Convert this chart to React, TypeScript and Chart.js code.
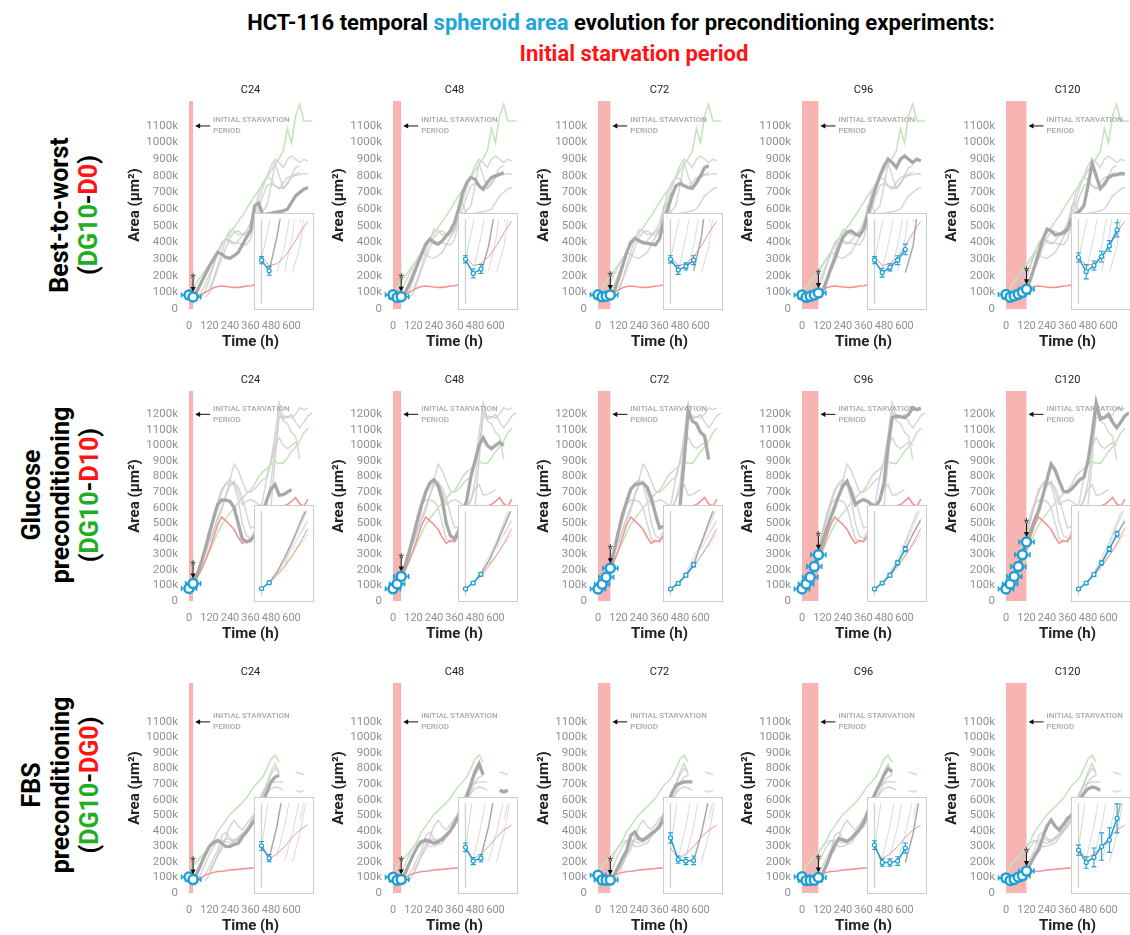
import React, { useEffect, useRef } from "react";
import { Chart, registerables } from "chart.js";
Chart.register(...registerables);

const FONT = "Roboto, 'Noto Sans', 'DejaVu Sans', sans-serif";

// ---------------- DATA (areas in thousand µm², time in hours) ----------------
const TIMES = [0, 24, 48, 72, 96, 120, 144, 168, 192, 216, 240, 264, 288, 312, 336, 360, 384, 408, 432, 456, 480, 504, 528, 552, 576, 600, 624, 648, 672, 696, 720];
const STARVATION_HOURS = [24, 48, 72, 96, 120];
const PANEL_TITLES = ["C24", "C48", "C72", "C96", "C120"];
const X_TICKS = [0, 120, 240, 360, 480, 600];
const Y_TICKS_1100 = [0, 100, 200, 300, 400, 500, 600, 700, 800, 900, 1000, 1100];
const Y_TICKS_1200 = [0, 100, 200, 300, 400, 500, 600, 700, 800, 900, 1000, 1100, 1200];

// Row 1: Best-to-worst (DG10-D0)
const GREEN_BTW = [85, 125, 165, 200, 235, 268, 305, 345, 385, 420, 455, 490, 525, 560, 600, 640, 680, 715, 750, 790, 830, 870, 905, 950, 1085, 1000, 1160, 1230, 1130, 1130, 1130];
const RED_BTW = [88, 78, 80, 88, 100, 115, 128, 135, 138, 135, 132, 130, 130, 133, 138, 140, 145, 150, 160, 175, 190, 210, 230, 250, 270, 290, 310, 330, 350, 370, 390];
const GREY_BTW_C24 = [null, 72, 110, 160, 210, 260, 300, 340, 330, 310, 305, 320, 340, 385, 430, 470, 620, 636, 565, 570, 575, 580, 585, 590, 600, 640, 680, 700, 720, 730, null];
const GREY_BTW_C48 = [null, null, 70, 100, 150, 210, 270, 330, 390, 420, 400, 390, 410, 440, 470, 520, 600, 700, 760, 790, 780, 740, 720, 760, 790, 800, 810, 820, null, null, null];
const GREY_BTW_C72 = [null, null, null, 72, 110, 180, 260, 340, 400, 425, 410, 400, 395, 390, 385, 420, 520, 600, 680, 740, 755, 740, 730, 725, 760, 800, 850, 860, null, null, null];
const GREY_BTW_C96 = [null, null, null, null, 70, 100, 170, 240, 300, 370, 430, 460, 470, 450, 440, 480, 560, 650, 730, 800, 860, 900, 880, 850, 900, 920, 900, 880, 900, 890, null];
const GREY_BTW_C120 = [null, null, null, null, null, 126, 180, 260, 340, 420, 480, 470, 445, 450, 460, 480, 540, 570, 590, 620, 740, 874, 800, 724, 750, 790, 804, 806, 814, 810, null];
const BLUE_BTW_C24 = [84, 72];
const BLUE_BTW_C48 = [85, 69, 74];
const BLUE_BTW_C72 = [85, 73, 77, 84];
const BLUE_BTW_C96 = [84, 70, 76, 84, 96];
const BLUE_BTW_C120 = [87, 71, 78, 88, 100, 118];
const ERR_BTW_C24 = [4, 5];
const ERR_BTW_C48 = [4, 5, 5];
const ERR_BTW_C72 = [4, 5, 4, 5];
const ERR_BTW_C96 = [4, 5, 4, 5, 6];
const ERR_BTW_C120 = [5, 8, 5, 6, 6, 8];

// Row 2: Glucose preconditioning (DG10-D10)
const GREEN_GLU = [80, 115, 160, 210, 265, 320, 380, 440, 490, 530, 565, 600, 630, 660, 690, 710, 750, 800, 830, 850, 880, 895, 885, 885, 920, 960, 990, 1030, 1080, 1110, null];
const RED_GLU = [80, 110, 150, 200, 260, 330, 410, 490, 540, 515, 490, 460, 410, 370, 390, 380, 420, 450, 500, 540, 560, 580, 600, 610, 620, 640, 665, 625, 610, 655, null];
const GREY_GLU_C24 = [null, 112, 170, 250, 340, 440, 530, 620, 650, 648, 640, 600, 500, 400, 380, 390, 420, 480, 560, 650, 720, 748, 680, 684, 700, 716, null, null, null, null, null];
const GREY_GLU_C48 = [null, null, 160, 230, 320, 420, 520, 620, 700, 760, 780, 740, 650, 500, 420, 400, 450, 550, 650, 800, 900, 1000, 1050, 1000, 980, 1000, 1020, 1000, null, null, null];
const GREY_GLU_C72 = [null, null, null, 211, 330, 450, 560, 640, 720, 748, 755, 759, 730, 662, 560, 469, 480, 500, 540, 580, 610, 900, 1221, 1157, 1140, 1085, 1060, 910, null, null, null];
const GREY_GLU_C96 = [null, null, null, null, 297, 380, 460, 540, 608, 680, 740, 770, 700, 619, 640, 652, 640, 620, 610, 650, 760, 1000, 1178, 1189, 1185, 1178, 1200, 1243, 1230, 1240, null];
const GREY_GLU_C120 = [null, null, null, null, null, 379, 450, 520, 580, 680, 780, 880, 840, 770, 705, 700, 720, 750, 780, 794, 900, 1073, 1274, 1170, 1180, 1200, 1150, 1114, 1150, 1190, 1210];
const BLUE_GLU_C24 = [80, 112];
const BLUE_GLU_C48 = [78, 110, 158];
const BLUE_GLU_C72 = [77, 108, 153, 211];
const BLUE_GLU_C96 = [77, 110, 153, 221, 297];
const BLUE_GLU_C120 = [77, 110, 157, 221, 297, 379];
const ERR_GLU_C24 = [6, 8];
const ERR_GLU_C48 = [6, 8, 10];
const ERR_GLU_C72 = [6, 8, 10, 12];
const ERR_GLU_C96 = [6, 8, 10, 12, 14];
const ERR_GLU_C120 = [6, 8, 10, 12, 14, 16];

// Row 3: FBS preconditioning (DG10-DG0)
const GREEN_FBS = [100, 175, 205, 235, 265, 296, 340, 395, 430, 470, 505, 530, 555, 580, 610, 650, 690, 715, 746, 800, 860, 886, 840, null, null, null, 778, 770, 760, null, null];
const RED_FBS = [100, 85, 92, 102, 115, 125, 132, 138, 140, 143, 148, 150, 152, 155, 158, 160, 162, 165, 170, 180, 195, 215, 240, 265, 295, 330, 370, 410, 450, 490, 520];
const GREY_FBS_C24 = [null, 86, 130, 190, 250, 300, 325, 338, 320, 298, 300, 312, 320, 360, 392, 430, 468, 520, 580, 650, 714, 745, 757, null, null, null, null, null, null, null, null];
const GREY_FBS_C48 = [null, null, 88, 130, 190, 250, 300, 330, 340, 330, 320, 330, 345, 370, 400, 450, 500, 560, 620, 700, 780, 832, 760, null, null, null, 660, 650, 660, null, null];
const GREY_FBS_C72 = [null, null, null, 82, 120, 170, 225, 275, 370, 392, 350, 340, 360, 382, 400, 424, 480, 560, 640, 692, 705, 714, 714, 714, null, null, null, null, null, null, null];
const GREY_FBS_C96 = [null, null, null, null, 80, 120, 180, 250, 310, 350, 340, 330, 350, 380, 410, 450, 520, 590, 650, 700, 760, 800, 780, null, null, null, null, null, null, null, null];
const GREY_FBS_C120 = [null, null, null, null, null, 140, 190, 240, 280, 360, 430, 468, 430, 405, 440, 480, 500, 560, 600, 640, 670, 682, 675, 660, null, null, null, null, null, null, null];
const BLUE_FBS_C24 = [103, 86];
const BLUE_FBS_C48 = [101, 82, 86];
const BLUE_FBS_C72 = [114, 84, 82, 83];
const BLUE_FBS_C96 = [104, 80, 80, 82, 100];
const BLUE_FBS_C120 = [97, 80, 87, 102, 111, 141];
const ERR_FBS_C24 = [6, 5];
const ERR_FBS_C48 = [6, 5, 5];
const ERR_FBS_C72 = [7, 5, 5, 6];
const ERR_FBS_C96 = [6, 5, 5, 6, 7];
const ERR_FBS_C120 = [7, 8, 13, 19, 17, 20];

const ROWS = [
  {
    green: GREEN_BTW, red: RED_BTW,
    greys: [GREY_BTW_C24, GREY_BTW_C48, GREY_BTW_C72, GREY_BTW_C96, GREY_BTW_C120],
    blues: [BLUE_BTW_C24, BLUE_BTW_C48, BLUE_BTW_C72, BLUE_BTW_C96, BLUE_BTW_C120],
    errs: [ERR_BTW_C24, ERR_BTW_C48, ERR_BTW_C72, ERR_BTW_C96, ERR_BTW_C120],
    yMax: 1250, yTicks: Y_TICKS_1100, noteLevel: 1100, insetMin: 35, insetMax: 130,
  },
  {
    green: GREEN_GLU, red: RED_GLU,
    greys: [GREY_GLU_C24, GREY_GLU_C48, GREY_GLU_C72, GREY_GLU_C96, GREY_GLU_C120],
    blues: [BLUE_GLU_C24, BLUE_GLU_C48, BLUE_GLU_C72, BLUE_GLU_C96, BLUE_GLU_C120],
    errs: [ERR_GLU_C24, ERR_GLU_C48, ERR_GLU_C72, ERR_GLU_C96, ERR_GLU_C120],
    yMax: 1350, yTicks: Y_TICKS_1200, noteLevel: 1200, insetMin: 40, insetMax: 505,
  },
  {
    green: GREEN_FBS, red: RED_FBS,
    greys: [GREY_FBS_C24, GREY_FBS_C48, GREY_FBS_C72, GREY_FBS_C96, GREY_FBS_C120],
    blues: [BLUE_FBS_C24, BLUE_FBS_C48, BLUE_FBS_C72, BLUE_FBS_C96, BLUE_FBS_C120],
    errs: [ERR_FBS_C24, ERR_FBS_C48, ERR_FBS_C72, ERR_FBS_C96, ERR_FBS_C120],
    yMax: 1350, yTicks: Y_TICKS_1100, noteLevel: 1100, insetMin: 45, insetMax: 162,
  },
];

// ---------------- STYLE / LAYOUT ----------------
const BLUE = "#1f9fd4";
const BAND = "#f8b3b3";
const GREEN_LINE = "#c2e6ba";
const RED_LINE = "#f39494";
const GREY_LIGHT = "rgba(200,200,200,0.75)";
const GREY_DARK = "#a8a8a8";
const TICK_COLOR = "#8b9199";
const LABEL_GREEN = "#1fae1f";
const LABEL_RED = "#ff1414";
const X_TICK_SIZE = 11;
const Y_TICK_SIZE = 11.5;

const COL_X0 = [189, 393, 598, 802, 1006];
const ROW_TOP = [101, 391, 683];
const ROW_BOTTOM = [309, 601, 893];
const Y_AXIS_W = 80;
const PLOT_W = 130;
const TOP_PAD = 23;
const X_AXIS_H = 45;

function series(vals) {
  return TIMES.map((t, i) => ({ x: t, y: vals[i] === undefined ? null : vals[i] }));
}

function drawErrorBars(chart, vals, errs, main) {
  const { ctx } = chart;
  const x = chart.scales.x;
  const y = chart.scales.y;
  ctx.save();
  ctx.strokeStyle = BLUE;
  ctx.lineWidth = main ? 1.6 : 1.1;
  vals.forEach((v, i) => {
    const px = x.getPixelForValue(TIMES[i]);
    const py = y.getPixelForValue(v);
    const pt = y.getPixelForValue(v + errs[i]);
    const pb = y.getPixelForValue(v - errs[i]);
    const cap = main ? 3.5 : 2.5;
    ctx.beginPath();
    ctx.moveTo(px, pt); ctx.lineTo(px, pb);
    ctx.moveTo(px - cap, pt); ctx.lineTo(px + cap, pt);
    ctx.moveTo(px - cap, pb); ctx.lineTo(px + cap, pb);
    if (main) {
      const hw = 7.5;
      ctx.moveTo(px - hw, py); ctx.lineTo(px + hw, py);
      ctx.moveTo(px - hw, py - 2.5); ctx.lineTo(px - hw, py + 2.5);
      ctx.moveTo(px + hw, py - 2.5); ctx.lineTo(px + hw, py + 2.5);
    }
    ctx.stroke();
  });
  ctx.restore();
}

function buildDatasets(row, col, inset) {
  const R = ROWS[row];
  const blue = R.blues[col];
  const ds = [];
  ds.push({
    data: blue.map((v, i) => ({ x: TIMES[i], y: v })),
    borderColor: BLUE, borderWidth: inset ? 1.5 : 3,
    pointRadius: inset ? 2 : 4.5, pointBorderWidth: inset ? 1.2 : 2.5,
    pointBackgroundColor: "#fff", pointBorderColor: BLUE, clip: false, tension: 0,
  });
  ds.push({ data: series(R.greys[col]), borderColor: GREY_DARK, borderWidth: inset ? 1.5 : 3.3, pointRadius: 0, tension: 0 });
  ds.push({ data: series(R.red), borderColor: RED_LINE, borderWidth: inset ? 1 : 1.6, pointRadius: 0, tension: 0 });
  ds.push({ data: series(R.green), borderColor: GREEN_LINE, borderWidth: inset ? 1 : 1.6, pointRadius: 0, tension: 0 });
  R.greys.forEach((g, i) => {
    if (i !== col) ds.push({ data: series(g), borderColor: GREY_LIGHT, borderWidth: inset ? 0.9 : 1.5, pointRadius: 0, tension: 0 });
  });
  return ds;
}

function Panel({ row, col }) {
  const mainRef = useRef(null);
  const insetRef = useRef(null);
  const R = ROWS[row];
  const C = STARVATION_HOURS[col];
  const plotH = ROW_BOTTOM[row] - ROW_TOP[row];
  const canvasH = TOP_PAD + plotH + X_AXIS_H;
  const canvasW = Y_AXIS_W + PLOT_W;
  const left = COL_X0[col] - Y_AXIS_W;
  const top = ROW_TOP[row] - TOP_PAD;

  useEffect(() => {
    const blue = R.blues[col];
    const errs = R.errs[col];
    const mainDecor = {
      id: "mainDecor",
      beforeDatasetsDraw(chart) {
        const { ctx, chartArea } = chart;
        const x = chart.scales.x, y = chart.scales.y;
        const x0 = x.getPixelForValue(0), x1 = x.getPixelForValue(C);
        const yb = y.getPixelForValue(0);
        ctx.save();
        ctx.fillStyle = BAND;
        ctx.fillRect(x0, chartArea.top, x1 - x0, yb - chartArea.top);
        ctx.restore();
      },
      beforeDatasetDraw(chart, args) {
        if (args.index === 0) drawErrorBars(chart, blue, errs, true);
      },
      afterDatasetsDraw(chart) {
        const { ctx } = chart;
        const x = chart.scales.x, y = chart.scales.y;
        const xe = x.getPixelForValue(C);
        const ya = y.getPixelForValue(R.noteLevel);
        ctx.save();
        ctx.strokeStyle = "#111";
        ctx.fillStyle = "#111";
        ctx.lineWidth = 1;
        ctx.beginPath();
        ctx.moveTo(xe + 17, ya); ctx.lineTo(xe + 6, ya); ctx.stroke();
        ctx.beginPath();
        ctx.moveTo(xe + 2, ya); ctx.lineTo(xe + 7, ya - 2.6); ctx.lineTo(xe + 7, ya + 2.6); ctx.closePath(); ctx.fill();
        ctx.fillStyle = "#a8a8a8";
        ctx.font = `500 8px ${FONT}`;
        ctx.textAlign = "left";
        ctx.textBaseline = "middle";
        ctx.fillText("INITIAL STARVATION", xe + 20, ya - 5.5);
        ctx.fillText("PERIOD", xe + 20, ya + 5.5);
        // significance arrow to the last point of the starvation series
        const li = blue.length - 1;
        const px = x.getPixelForValue(TIMES[li]);
        const py = y.getPixelForValue(blue[li]);
        ctx.strokeStyle = "#111";
        ctx.fillStyle = "#111";
        ctx.beginPath();
        ctx.moveTo(px, py - 19); ctx.lineTo(px, py - 9); ctx.stroke();
        ctx.beginPath();
        ctx.moveTo(px, py - 5); ctx.lineTo(px - 2.6, py - 10); ctx.lineTo(px + 2.6, py - 10); ctx.closePath(); ctx.fill();
        ctx.fillStyle = "#444";
        ctx.font = `13px ${FONT}`;
        ctx.textAlign = "center";
        ctx.fillText("*", px, py - 18);
        ctx.restore();
      },
      afterDraw(chart) {
        const { ctx, chartArea } = chart;
        ctx.save();
        ctx.fillStyle = "#222";
        ctx.font = `11px ${FONT}`;
        ctx.textAlign = "center";
        ctx.textBaseline = "middle";
        ctx.fillText(PANEL_TITLES[col], (chartArea.left + chartArea.right) / 2, chartArea.top - 11);
        ctx.restore();
      },
    };

    const main = new Chart(mainRef.current, {
      type: "line",
      data: { datasets: buildDatasets(row, col, false) },
      options: {
        animation: false,
        responsive: false,
        events: [],
        layout: { padding: { top: TOP_PAD, left: 0, right: 0, bottom: 0 } },
        plugins: { legend: { display: false }, tooltip: { enabled: false }, title: { display: false } },
        scales: {
          x: {
            type: "linear", min: 0, max: 720,
            grid: { display: false }, border: { display: false },
            afterBuildTicks: (s) => { s.ticks = X_TICKS.map((v) => ({ value: v })); },
            afterFit: (s) => { s.height = X_AXIS_H; },
            ticks: { autoSkip: false, maxRotation: 0, minRotation: 0, color: TICK_COLOR, font: { family: FONT, size: X_TICK_SIZE }, padding: 3 },
            title: { display: true, text: "Time (h)", color: "#222", font: { family: FONT, size: 15, weight: "bold" }, padding: { top: 4, bottom: 3 } },
          },
          y: {
            type: "linear", min: 0, max: R.yMax,
            grid: { display: false }, border: { display: true, color: "#dadada" },
            afterBuildTicks: (s) => { s.ticks = R.yTicks.map((v) => ({ value: v })); },
            afterFit: (s) => { s.width = Y_AXIS_W; },
            ticks: { color: TICK_COLOR, font: { family: FONT, size: Y_TICK_SIZE }, padding: 3, callback: (v) => (v === 0 ? "0" : `${v}k`) },
            title: { display: true, text: "Area (µm²)", color: "#222", font: { family: FONT, size: 15, weight: "bold" }, padding: { top: 17, bottom: 0 } },
          },
        },
      },
      plugins: [mainDecor],
    });

    const insetDecor = {
      id: "insetDecor",
      beforeDatasetsDraw(chart) {
        const { ctx, chartArea } = chart;
        const x = chart.scales.x;
        const px = x.getPixelForValue(0);
        ctx.save();
        ctx.strokeStyle = "#cfcfcf";
        ctx.lineWidth = 1.3;
        ctx.beginPath();
        ctx.moveTo(px, chartArea.top); ctx.lineTo(px, chartArea.bottom); ctx.stroke();
        ctx.restore();
      },
      beforeDatasetDraw(chart, args) {
        if (args.index === 0) drawErrorBars(chart, blue, errs, false);
      },
    };

    const inset = new Chart(insetRef.current, {
      type: "line",
      data: { datasets: buildDatasets(row, col, true) },
      options: {
        animation: false,
        responsive: false,
        events: [],
        layout: { padding: 0 },
        plugins: { legend: { display: false }, tooltip: { enabled: false }, title: { display: false } },
        scales: {
          x: { type: "linear", display: false, min: -4, max: 144 },
          y: { type: "linear", display: false, min: R.insetMin, max: R.insetMax },
        },
      },
      plugins: [insetDecor],
    });

    return () => { main.destroy(); inset.destroy(); };
  }, [row, col]);

  const insetLeft = COL_X0[col] + 65;
  const insetTop = ROW_BOTTOM[row] - 96;
  return (
    <>
      <canvas ref={mainRef} width={canvasW} height={canvasH}
        style={{ position: "absolute", left, top, width: canvasW, height: canvasH }} />
      <div style={{ position: "absolute", left: insetLeft, top: insetTop, width: 60, height: 97, boxSizing: "border-box", border: "1px solid #cbcbcb", background: "#fff" }}>
        <canvas ref={insetRef} width={58} height={95} style={{ display: "block", width: 58, height: 95 }} />
      </div>
    </>
  );
}

function RowLabel({ cx, cy, lines }) {
  return (
    <div style={{
      position: "absolute", left: cx, top: cy, transform: "translate(-50%,-50%) rotate(-90deg)",
      whiteSpace: "nowrap", textAlign: "center", fontFamily: FONT, fontWeight: 700, fontSize: 25, lineHeight: "29px", color: "#000",
    }}>
      {lines.map((l, i) => <div key={i}>{l}</div>)}
    </div>
  );
}

export default function App() {
  const panels = [];
  for (let r = 0; r < 3; r++) for (let c = 0; c < 5; c++) panels.push(<Panel key={`${r}-${c}`} row={r} col={c} />);
  return (
    <div style={{ position: "absolute", left: 0, top: 0, width: 1130, height: 935, overflow: "hidden", background: "#fff", fontFamily: FONT }}>
      <div style={{ position: "absolute", left: 621, top: 22, transform: "translate(-50%,-50%)", whiteSpace: "nowrap", fontWeight: 700, fontSize: 22, color: "#000" }}>
        HCT-116 temporal <span style={{ color: "#1ea6d6" }}>spheroid area</span> evolution for preconditioning experiments:
      </div>
      <div style={{ position: "absolute", left: 634, top: 53, transform: "translate(-50%,-50%)", whiteSpace: "nowrap", fontWeight: 700, fontSize: 22, color: LABEL_RED }}>
        Initial starvation period
      </div>
      <RowLabel cx={74} cy={215} lines={["Best-to-worst", <span>(<span style={{ color: LABEL_GREEN }}>DG10</span>-<span style={{ color: LABEL_RED }}>D0</span>)</span>]} />
      <RowLabel cx={60} cy={495} lines={["Glucose", "preconditioning", <span>(<span style={{ color: LABEL_GREEN }}>DG10</span>-<span style={{ color: LABEL_RED }}>D10</span>)</span>]} />
      <RowLabel cx={60} cy={785} lines={["FBS", "preconditioning", <span>(<span style={{ color: LABEL_GREEN }}>DG10</span>-<span style={{ color: LABEL_RED }}>DG0</span>)</span>]} />
      {panels}
    </div>
  );
}
